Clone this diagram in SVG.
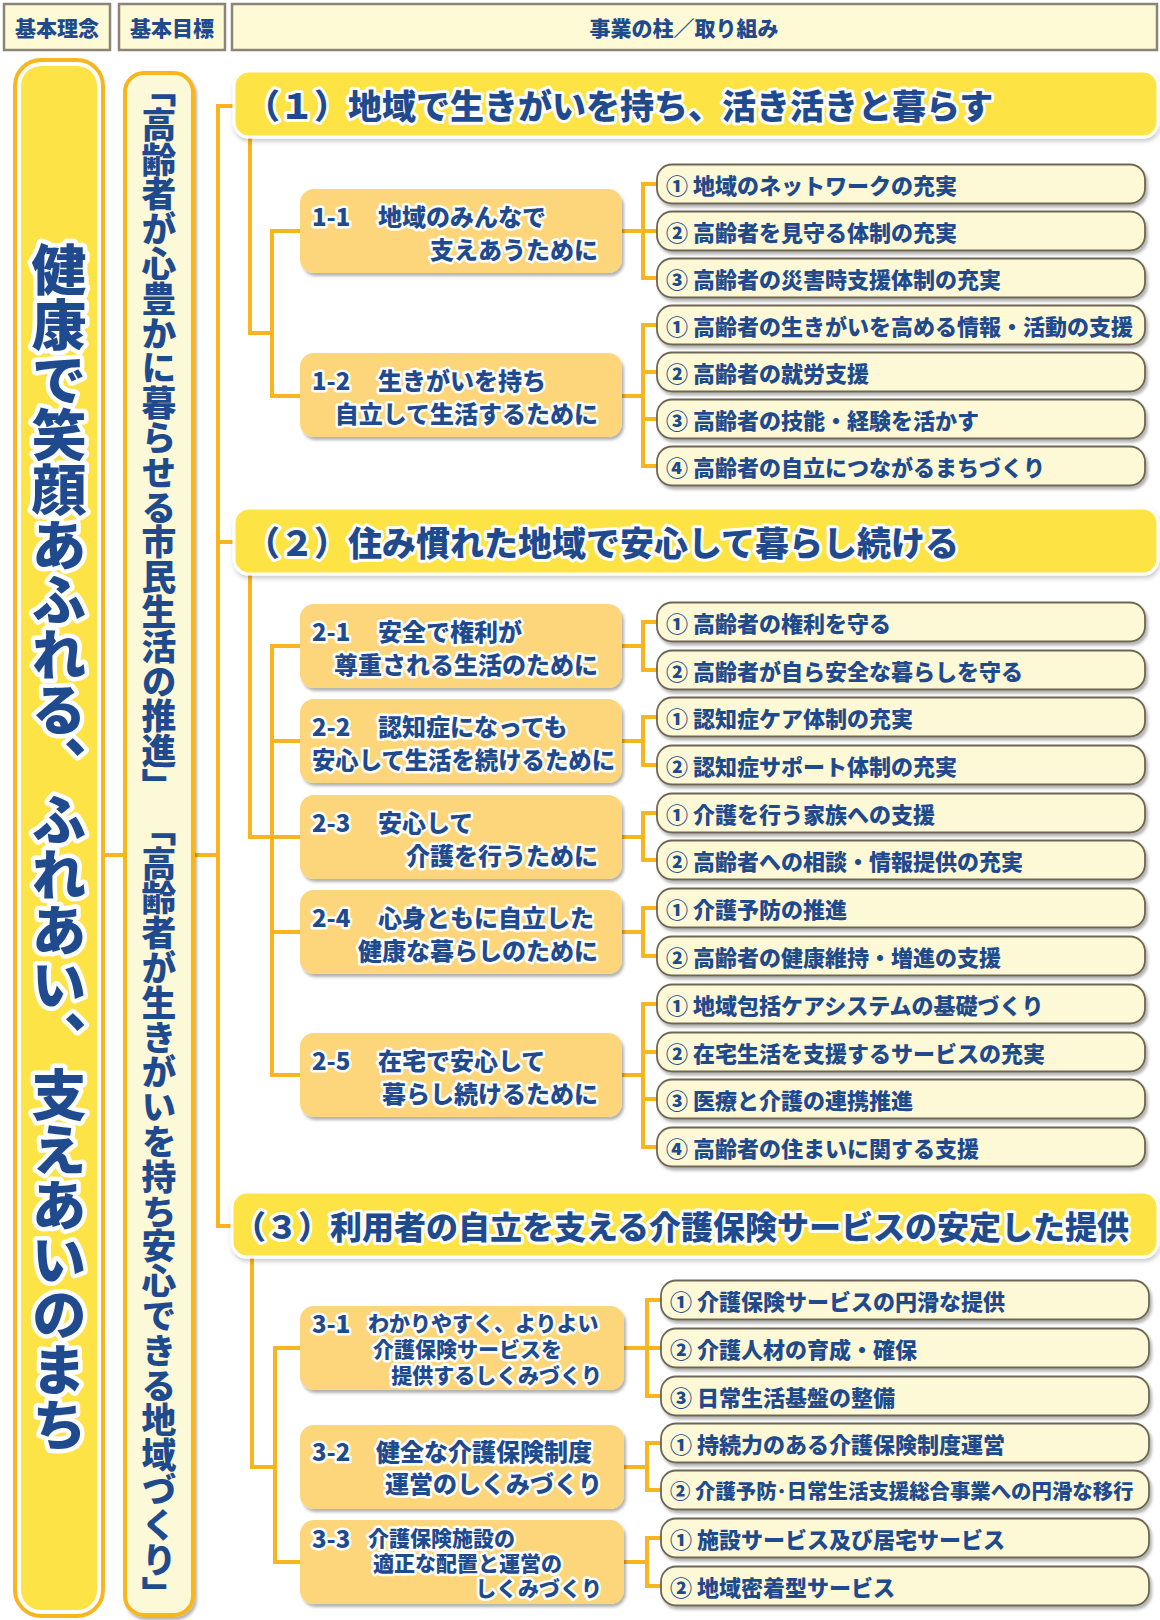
<svg xmlns="http://www.w3.org/2000/svg" width="1160" height="1620" viewBox="0 0 1160 1620">
<defs>
<filter id="sh" x="-5%" y="-20%" width="115%" height="150%"><feDropShadow dx="2" dy="3" stdDeviation="1.5" flood-color="#000" flood-opacity="0.3"/></filter>
<filter id="hsh" x="-5%" y="-20%" width="115%" height="150%"><feDropShadow dx="1" dy="3" stdDeviation="2" flood-color="#000" flood-opacity="0.2"/></filter>
<style>
text{font-family:"Noto Sans CJK JP","Noto Sans CJK SC",sans-serif;font-weight:900;fill:#1F4B8E}
.o{stroke:#fff;stroke-linejoin:round;paint-order:stroke}
.top rect{fill:#FDFAD5;stroke:#8C8476;stroke-width:2.5}
.top text{font-size:21px;text-anchor:middle;dominant-baseline:central}
.hd rect{fill:#FEE344;stroke:#fff;stroke-width:3}
.hd text{font-size:34px;dominant-baseline:central;stroke-width:6}
.sb rect{fill:#FDD67B}
.sb text{font-size:24px;dominant-baseline:central;stroke-width:5}
.sb text.s{font-size:21px}
.e{text-anchor:end}
.lf rect{fill:#FDF9D6;stroke:#6E6654;stroke-width:1.8}
.lf text{font-size:22px;dominant-baseline:central}
.cn path{fill:none;stroke:#F9B51E;stroke-width:4}
.v{writing-mode:vertical-rl;text-anchor:middle}
</style>
</defs>
<rect width="1160" height="1620" fill="#fff"/>

<g class="top">
<g id="h-rinen"><rect x="4" y="4" width="106" height="46"/><text x="57" y="27">基本理念</text></g>
<g id="h-mokuhyo"><rect x="119" y="4" width="106" height="46"/><text x="172" y="27">基本目標</text></g>
<g id="h-jigyo"><rect x="232" y="4" width="925" height="46"/><text x="684" y="27">事業の柱／取り組み</text></g>
</g>

<g class="cn" id="connectors">
<path d="M105 855H125M193 855H218"/>
<path d="M234 106H218V1226H232M218 542H234"/>
<path d="M250 137V333H272M300 231H272V396H300"/>
<path d="M622 231H643M657 184H643V278H657M643 231H657"/>
<path d="M622 396H643M657 325H643V466H657M643 372H657M643 419H657"/>
<path d="M250 574V837H272M300 646H272V1075H300M272 741H300M272 837H300M272 932H300"/>
<path d="M622 646H643M657 622H643V670H657"/>
<path d="M622 741H643M657 717H643V765H657"/>
<path d="M622 837H643M657 813H643V860H657"/>
<path d="M622 932H643M657 908H643V956H657"/>
<path d="M622 1075H643M657 1004H643V1147H657M643 1052H657M643 1099H657"/>
<path d="M252 1257V1467H275M300 1348H275V1562H300"/>
<path d="M624 1348H647M661 1300H647V1396H661M647 1348H661"/>
<path d="M624 1467H647M661 1443H647V1490H661"/>
<path d="M624 1562H647M661 1538H647V1586H661"/>
</g>

<g id="rinen">
<rect x="15" y="60" width="88" height="1556" rx="26" fill="#fff" stroke="#F9B51E" stroke-width="4"/>
<rect x="21" y="66" width="76" height="1544" rx="20" fill="#FEE347"/>
<text class="v o" x="59" y="847" font-size="55" stroke-width="9">健康で笑顔あふれる、ふれあい、支えあいのまち</text>
</g>

<g id="mokuhyo">
<rect x="125" y="73" width="68" height="1542" rx="19" fill="#FCF9D9" stroke="#F9B51E" stroke-width="4" filter="url(#sh)"/>
<text class="v" x="159" y="842" font-size="34.8">「高齢者が心豊かに暮らせる市民生活の推進」 「高齢者が生きがいを持ち安心できる地域づくり」</text>
</g>

<g class="hd">
<g id="p1"><rect x="234" y="71" width="924" height="66" rx="15" filter="url(#hsh)"/><text class="o" x="246" y="104">（１）地域で生きがいを持ち、活き活きと暮らす</text></g>
<g id="p2"><rect x="234" y="508" width="924" height="66" rx="15" filter="url(#hsh)"/><text class="o" x="246" y="541">（２）住み慣れた地域で安心して暮らし続ける</text></g>
<g id="p3"><rect x="232" y="1192" width="926" height="65" rx="15" filter="url(#hsh)"/><text class="o" x="234" y="1225" style="font-size:32px">（３）利用者の自立を支える介護保険サービスの安定した提供</text></g>
</g>

<g class="sb">
<g id="s1-1"><rect x="300" y="189" width="322" height="84" rx="14" filter="url(#sh)"/><text class="o" x="312" y="215">1-1</text><text class="o" x="378" y="215">地域のみんなで</text><text class="o e" x="598" y="248">支えあうために</text></g>
<g id="s1-2"><rect x="300" y="353" width="322" height="84" rx="14" filter="url(#sh)"/><text class="o" x="312" y="379">1-2</text><text class="o" x="378" y="379">生きがいを持ち</text><text class="o e" x="598" y="412">自立して生活するために</text></g>
<g id="s2-1"><rect x="300" y="604" width="322" height="84" rx="14" filter="url(#sh)"/><text class="o" x="312" y="630">2-1</text><text class="o" x="378" y="630">安全で権利が</text><text class="o e" x="598" y="663">尊重される生活のために</text></g>
<g id="s2-2"><rect x="300" y="699" width="322" height="84" rx="14" filter="url(#sh)"/><text class="o" x="312" y="725">2-2</text><text class="o" x="378" y="725">認知症になっても</text><text class="o" x="312" y="758" textLength="303" lengthAdjust="spacingAndGlyphs">安心して生活を続けるために</text></g>
<g id="s2-3"><rect x="300" y="795" width="322" height="84" rx="14" filter="url(#sh)"/><text class="o" x="312" y="821">2-3</text><text class="o" x="378" y="821">安心して</text><text class="o e" x="598" y="854">介護を行うために</text></g>
<g id="s2-4"><rect x="300" y="890" width="322" height="84" rx="14" filter="url(#sh)"/><text class="o" x="312" y="916">2-4</text><text class="o" x="378" y="916">心身ともに自立した</text><text class="o e" x="598" y="949">健康な暮らしのために</text></g>
<g id="s2-5"><rect x="300" y="1033" width="322" height="84" rx="14" filter="url(#sh)"/><text class="o" x="312" y="1059">2-5</text><text class="o" x="378" y="1059">在宅で安心して</text><text class="o e" x="598" y="1092">暮らし続けるために</text></g>
<g id="s3-1"><rect x="300" y="1306" width="324" height="84" rx="14" filter="url(#sh)"/><text class="o" x="312" y="1322">3-1</text><text class="o s" x="368" y="1322">わかりやすく、よりよい</text><text class="o s" x="373" y="1348">介護保険サービスを</text><text class="o s e" x="602" y="1374">提供するしくみづくり</text></g>
<g id="s3-2"><rect x="300" y="1425" width="324" height="84" rx="14" filter="url(#sh)"/><text class="o" x="312" y="1450">3-2</text><text class="o" x="376" y="1450">健全な介護保険制度</text><text class="o e" x="602" y="1482">運営のしくみづくり</text></g>
<g id="s3-3"><rect x="300" y="1520" width="324" height="84" rx="14" filter="url(#sh)"/><text class="o" x="312" y="1537">3-3</text><text class="o s" x="368" y="1537">介護保険施設の</text><text class="o s" x="373" y="1562">適正な配置と運営の</text><text class="o s e" x="602" y="1587">しくみづくり</text></g>
</g>

<g class="lf">
<g id="l1-1-1"><rect x="657" y="164.5" width="488" height="39" rx="15" filter="url(#sh)"/><text x="666" y="184">① 地域のネットワークの充実</text></g>
<g id="l1-1-2"><rect x="657" y="211.5" width="488" height="39" rx="15" filter="url(#sh)"/><text x="666" y="231">② 高齢者を見守る体制の充実</text></g>
<g id="l1-1-3"><rect x="657" y="258.5" width="488" height="39" rx="15" filter="url(#sh)"/><text x="666" y="278">③ 高齢者の災害時支援体制の充実</text></g>
<g id="l1-2-1"><rect x="657" y="305.5" width="488" height="39" rx="15" filter="url(#sh)"/><text x="666" y="325">① 高齢者の生きがいを高める情報・活動の支援</text></g>
<g id="l1-2-2"><rect x="657" y="352.5" width="488" height="39" rx="15" filter="url(#sh)"/><text x="666" y="372">② 高齢者の就労支援</text></g>
<g id="l1-2-3"><rect x="657" y="399.5" width="488" height="39" rx="15" filter="url(#sh)"/><text x="666" y="419">③ 高齢者の技能・経験を活かす</text></g>
<g id="l1-2-4"><rect x="657" y="446.5" width="488" height="39" rx="15" filter="url(#sh)"/><text x="666" y="466">④ 高齢者の自立につながるまちづくり</text></g>

<g id="l2-1-1"><rect x="657" y="602.5" width="488" height="39" rx="15" filter="url(#sh)"/><text x="666" y="622">① 高齢者の権利を守る</text></g>
<g id="l2-1-2"><rect x="657" y="650.5" width="488" height="39" rx="15" filter="url(#sh)"/><text x="666" y="670">② 高齢者が自ら安全な暮らしを守る</text></g>
<g id="l2-2-1"><rect x="657" y="697.5" width="488" height="39" rx="15" filter="url(#sh)"/><text x="666" y="717">① 認知症ケア体制の充実</text></g>
<g id="l2-2-2"><rect x="657" y="745.5" width="488" height="39" rx="15" filter="url(#sh)"/><text x="666" y="765">② 認知症サポート体制の充実</text></g>
<g id="l2-3-1"><rect x="657" y="793.5" width="488" height="39" rx="15" filter="url(#sh)"/><text x="666" y="813">① 介護を行う家族への支援</text></g>
<g id="l2-3-2"><rect x="657" y="840.5" width="488" height="39" rx="15" filter="url(#sh)"/><text x="666" y="860">② 高齢者への相談・情報提供の充実</text></g>
<g id="l2-4-1"><rect x="657" y="888.5" width="488" height="39" rx="15" filter="url(#sh)"/><text x="666" y="908">① 介護予防の推進</text></g>
<g id="l2-4-2"><rect x="657" y="936.5" width="488" height="39" rx="15" filter="url(#sh)"/><text x="666" y="956">② 高齢者の健康維持・増進の支援</text></g>
<g id="l2-5-1"><rect x="657" y="984.5" width="488" height="39" rx="15" filter="url(#sh)"/><text x="666" y="1004">① 地域包括ケアシステムの基礎づくり</text></g>
<g id="l2-5-2"><rect x="657" y="1032.5" width="488" height="39" rx="15" filter="url(#sh)"/><text x="666" y="1052">② 在宅生活を支援するサービスの充実</text></g>
<g id="l2-5-3"><rect x="657" y="1079.5" width="488" height="39" rx="15" filter="url(#sh)"/><text x="666" y="1099">③ 医療と介護の連携推進</text></g>
<g id="l2-5-4"><rect x="657" y="1127.5" width="488" height="39" rx="15" filter="url(#sh)"/><text x="666" y="1147">④ 高齢者の住まいに関する支援</text></g>

<g id="l3-1-1"><rect x="661" y="1280.5" width="488" height="39" rx="15" filter="url(#sh)"/><text x="670" y="1300">① 介護保険サービスの円滑な提供</text></g>
<g id="l3-1-2"><rect x="661" y="1328.5" width="488" height="39" rx="15" filter="url(#sh)"/><text x="670" y="1348">② 介護人材の育成・確保</text></g>
<g id="l3-1-3"><rect x="661" y="1376.5" width="488" height="39" rx="15" filter="url(#sh)"/><text x="670" y="1396">③ 日常生活基盤の整備</text></g>
<g id="l3-2-1"><rect x="661" y="1423.5" width="488" height="39" rx="15" filter="url(#sh)"/><text x="670" y="1443">① 持続力のある介護保険制度運営</text></g>
<g id="l3-2-2"><rect x="661" y="1470.5" width="488" height="39" rx="15" filter="url(#sh)"/><text x="670" y="1490" style="font-size:20.4px">② 介護予防･日常生活支援総合事業への円滑な移行</text></g>
<g id="l3-3-1"><rect x="661" y="1518.5" width="488" height="39" rx="15" filter="url(#sh)"/><text x="670" y="1538">① 施設サービス及び居宅サービス</text></g>
<g id="l3-3-2"><rect x="661" y="1566.5" width="488" height="39" rx="15" filter="url(#sh)"/><text x="670" y="1586">② 地域密着型サービス</text></g>
</g>
</svg>
